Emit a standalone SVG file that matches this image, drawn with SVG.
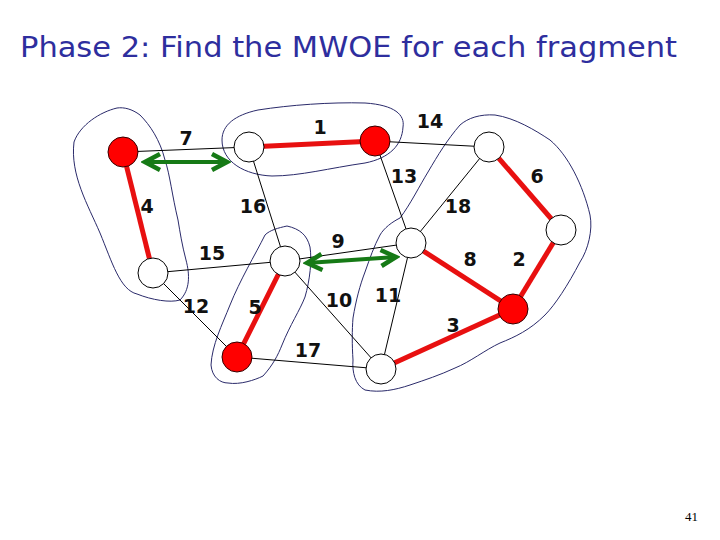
<svg xmlns="http://www.w3.org/2000/svg" width="720" height="540" viewBox="0 0 720 540">
<defs>
<style>
.e{stroke:#000;stroke-width:1;fill:none}
.m{stroke:#e81010;stroke-width:5;fill:none}
.f{stroke:#2a2a6a;stroke-width:1;fill:none}
.g{stroke:#167a16;stroke-width:4;fill:none;marker-start:url(#ah);marker-end:url(#ah)}
.n{fill:#fff;stroke:#000;stroke-width:1}
.r{fill:#f00;stroke:#300;stroke-width:1}
.l{font-family:"DejaVu Sans",sans-serif;font-size:19px;font-weight:bold;fill:#111;text-anchor:middle}
</style>
<marker id="ah" markerUnits="userSpaceOnUse" viewBox="-20 -12 24 24" markerWidth="24" markerHeight="24" refX="0" refY="0" orient="auto-start-reverse">
<path d="M-15,-8 L0,0 L-15,8" stroke="#167a16" stroke-width="4.5" fill="none" stroke-linejoin="miter"/>
</marker>
</defs>
<rect width="720" height="540" fill="#fff"/>
<text x="20" y="57" font-family="'Comic Sans MS','DejaVu Sans',sans-serif" font-size="28" fill="#2e2e9e" textLength="657" lengthAdjust="spacingAndGlyphs">Phase 2: Find the MWOE for each fragment</text>
<text x="698" y="521" font-family="'Liberation Serif',serif" font-size="13" fill="#000" text-anchor="end">41</text>
<g id="fragments">
<path class="f" d="M117,108 C100,112 80,125 74,142 C70,175 88,205 100,233 C112,262 120,290 137,294 C152,300 170,303 180,300 C190,290 190,275 186,260 C182,245 180,232 178,220 C172,195 170,175 165,160 C160,140 150,125 140,115 C132,109 124,107 117,108 Z"/>
<path class="f" d="M222,140 C222,125 235,115 258,110 C290,105 330,102 365,103 C395,105 405,115 403,127 C402,145 390,158 365,163 C330,168 300,176 272,176 C245,175 222,162 222,140 Z"/>
<path class="f" d="M287,226 C278,228 270,230 265,235 C255,255 240,280 230,305 C222,325 212,345 211,365 C212,377 220,383 228,383 C240,385 255,380 263,376 C273,365 278,355 282,345 C290,325 300,310 305,297 C310,280 312,260 310,247 C307,235 300,229 287,226 Z"/>
<path class="f" d="M460,125 C468,118 480,114 495,115 C515,118 535,130 550,140 C568,155 583,185 590,215 C593,230 588,250 580,262 C568,285 555,305 545,315 C530,330 515,337 500,343 C485,350 470,362 455,368 C440,375 425,380 410,385 C395,390 380,393 365,390 C355,385 352,372 353,360 C352,345 352,330 353,318 C356,300 360,285 365,272 C370,258 374,246 380,235 C384,228 392,222 400,218 C410,205 420,185 428,172 C438,155 447,140 460,125 Z"/>
</g>
<g id="connectors">
<line class="e" x1="123" y1="152" x2="249" y2="147"/>
<line class="e" x1="375" y1="141" x2="489" y2="147"/>
<line class="e" x1="375" y1="141" x2="411" y2="243"/>
<line class="e" x1="489" y1="147" x2="411" y2="243"/>
<line class="e" x1="249" y1="147" x2="285" y2="261"/>
<line class="e" x1="153" y1="273" x2="285" y2="261"/>
<line class="e" x1="153" y1="273" x2="237" y2="357"/>
<line class="e" x1="285" y1="261" x2="411" y2="243"/>
<line class="e" x1="285" y1="261" x2="381" y2="369"/>
<line class="e" x1="237" y1="357" x2="381" y2="369"/>
<line class="e" x1="411" y1="243" x2="381" y2="369"/>
<line class="m" x1="249" y1="147" x2="375" y2="141"/>
<line class="m" x1="489" y1="147" x2="561" y2="230"/>
<line class="m" x1="561" y1="230" x2="513" y2="309"/>
<line class="m" x1="123" y1="152" x2="153" y2="273"/>
<line class="m" x1="285" y1="261" x2="237" y2="357"/>
<line class="m" x1="411" y1="243" x2="513" y2="309"/>
<line class="m" x1="381" y1="369" x2="513" y2="309"/>
<line class="g" x1="145" y1="162" x2="227" y2="162"/>
<line class="g" x1="307" y1="263" x2="396" y2="257"/>
</g>
<g id="labels">
<text class="l" x="186" y="145">7</text>
<text class="l" x="320" y="134">1</text>
<text class="l" x="430" y="128">14</text>
<text class="l" x="404" y="183">13</text>
<text class="l" x="537" y="183">6</text>
<text class="l" x="458" y="213">18</text>
<text class="l" x="253" y="213">16</text>
<text class="l" x="147" y="213">4</text>
<text class="l" x="212" y="260">15</text>
<text class="l" x="338" y="248">9</text>
<text class="l" x="470" y="266">8</text>
<text class="l" x="519" y="266">2</text>
<text class="l" x="196" y="313">12</text>
<text class="l" x="255" y="314">5</text>
<text class="l" x="339" y="307">10</text>
<text class="l" x="388" y="302">11</text>
<text class="l" x="453" y="332">3</text>
<text class="l" x="308" y="357">17</text>
</g>
<g id="node-a"><circle class="r" cx="123" cy="152" r="15"/></g>
<g id="node-b"><circle class="n" cx="249" cy="147" r="15"/></g>
<g id="node-c"><circle class="r" cx="375" cy="141" r="15"/></g>
<g id="node-d"><circle class="n" cx="489" cy="147" r="15"/></g>
<g id="node-e"><circle class="n" cx="561" cy="230" r="15"/></g>
<g id="node-f"><circle class="n" cx="153" cy="273" r="15"/></g>
<g id="node-g"><circle class="n" cx="285" cy="261" r="15"/></g>
<g id="node-h"><circle class="n" cx="411" cy="243" r="15"/></g>
<g id="node-i"><circle class="r" cx="513" cy="309" r="15"/></g>
<g id="node-j"><circle class="r" cx="237" cy="357" r="15"/></g>
<g id="node-k"><circle class="n" cx="381" cy="369" r="15"/></g>
</svg>
